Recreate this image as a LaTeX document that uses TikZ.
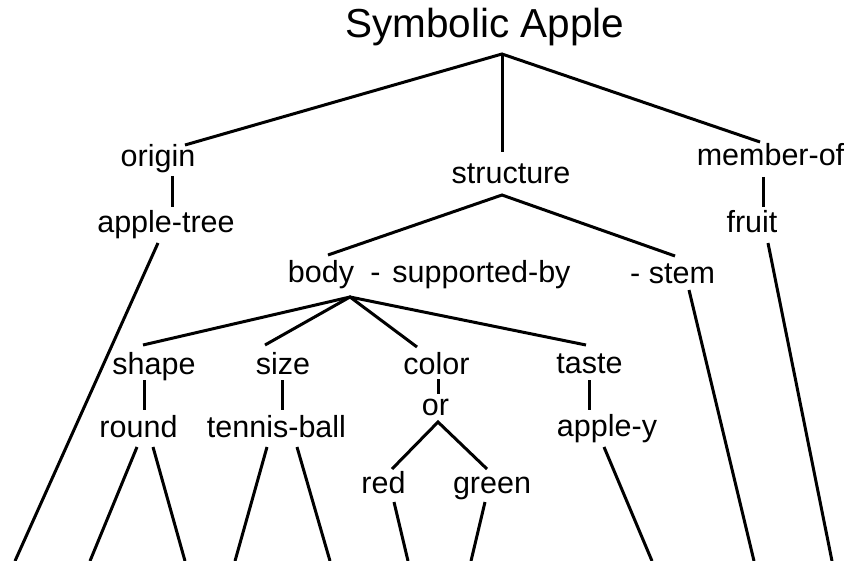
\documentclass[tikz,border=0pt]{standalone}
\usepackage{fontspec}
\setmainfont{Liberation Sans}
\begin{document}
\begin{tikzpicture}[x=1pt,y=-1pt,
  lbl/.style={inner sep=0pt,anchor=base,font=\fontsize{30.5}{36}\selectfont},
  ttl/.style={inner sep=0pt,anchor=base,font=\fontsize{40.5}{48}\selectfont},
  link/.style={line width=3pt}]
\useasboundingbox (0,0) rectangle (853,561);

% labels
\node[ttl] (apple) at (485,38) {Symbolic Apple};
\node[lbl] (origin) at (158,167) {origin};
\node[lbl] (structure) at (511,184) {structure};
\node[lbl] (memberof) at (770.5,166) {member-of};
\node[lbl] (appletree) at (166,233) {apple-tree};
\node[lbl] (fruit) at (752,233) {fruit};
\node[lbl] (body) at (321,282) {body};
\node[lbl] (dash) at (375.5,282) {-};
\node[lbl] (supported) at (481.5,282) {supported-by};
\node[lbl,anchor=base west] (stem) at (630,283) {- stem};
\node[lbl] (shape) at (154,374) {shape};
\node[lbl] (size) at (283,374) {size};
\node[lbl] (color) at (436.5,374) {color};
\node[lbl] (taste) at (589.5,373) {taste};
\node[lbl] (or) at (435.5,415) {or};
\node[lbl] (round) at (138.5,437) {round};
\node[lbl] (tennis) at (276.5,437) {tennis-ball};
\node[lbl] (appley) at (607,436) {apple-y};
\node[lbl] (red) at (383.5,493) {red};
\node[lbl] (green) at (492,493) {green};

% branch points and line ends
\coordinate (apex) at (502,54);
\coordinate (origin-in) at (185,145);
\coordinate (structure-in) at (502,152);
\coordinate (memberof-in) at (760,142);
\coordinate (origin-out) at (172,176);
\coordinate (appletree-in) at (172,207);
\coordinate (memberof-out) at (763,177);
\coordinate (fruit-in) at (763,207);
\coordinate (structure-apex) at (502,195);
\coordinate (body-in) at (328,255);
\coordinate (stem-in) at (675,256);
\coordinate (body-apex) at (350,297);
\coordinate (shape-in) at (143,345);
\coordinate (size-in) at (265,345);
\coordinate (color-in) at (417,347);
\coordinate (taste-in) at (586,345);
\coordinate (shape-out) at (144,380);
\coordinate (round-in) at (144,410);
\coordinate (size-out) at (282,380);
\coordinate (tennis-in) at (282,410);
\coordinate (color-out) at (438,379);
\coordinate (or-in) at (438,394);
\coordinate (taste-out) at (589,380);
\coordinate (appley-in) at (589,410);
\coordinate (or-apex) at (438,422);
\coordinate (red-in) at (392,469);
\coordinate (green-in) at (487,469);

% lines running off the bottom edge
\coordinate (appletree-out) at (158,243);
\coordinate (appletree-end) at (15,561);
\coordinate (round-out1) at (137,447);
\coordinate (round-end1) at (90,561);
\coordinate (round-out2) at (153,447);
\coordinate (round-end2) at (185,561);
\coordinate (tennis-out1) at (267,447);
\coordinate (tennis-end1) at (235,561);
\coordinate (tennis-out2) at (297,447);
\coordinate (tennis-end2) at (330,561);
\coordinate (red-out) at (394,502);
\coordinate (red-end) at (408,561);
\coordinate (green-out) at (485,502);
\coordinate (green-end) at (471,561);
\coordinate (appley-out) at (604,447);
\coordinate (appley-end) at (652,561);
\coordinate (stem-out) at (689,290);
\coordinate (stem-end) at (754,561);
\coordinate (fruit-out) at (768,243);
\coordinate (fruit-end) at (832,561);

% tree edges
\draw[link] (origin-in) -- (apex) -- (memberof-in);
\draw[link] (apex) -- (structure-in);
\draw[link] (origin-out) -- (appletree-in);
\draw[link] (memberof-out) -- (fruit-in);
\draw[link] (body-in) -- (structure-apex) -- (stem-in);
\draw[link] (shape-in) -- (body-apex) -- (taste-in);
\draw[link] (size-in) -- (body-apex) -- (color-in);
\draw[link] (shape-out) -- (round-in);
\draw[link] (size-out) -- (tennis-in);
\draw[link] (color-out) -- (or-in);
\draw[link] (taste-out) -- (appley-in);
\draw[link] (red-in) -- (or-apex) -- (green-in);

\draw[link] (appletree-out) -- (appletree-end);
\draw[link] (round-out1) -- (round-end1);
\draw[link] (round-out2) -- (round-end2);
\draw[link] (tennis-out1) -- (tennis-end1);
\draw[link] (tennis-out2) -- (tennis-end2);
\draw[link] (red-out) -- (red-end);
\draw[link] (green-out) -- (green-end);
\draw[link] (appley-out) -- (appley-end);
\draw[link] (stem-out) -- (stem-end);
\draw[link] (fruit-out) -- (fruit-end);
\end{tikzpicture}
\end{document}
